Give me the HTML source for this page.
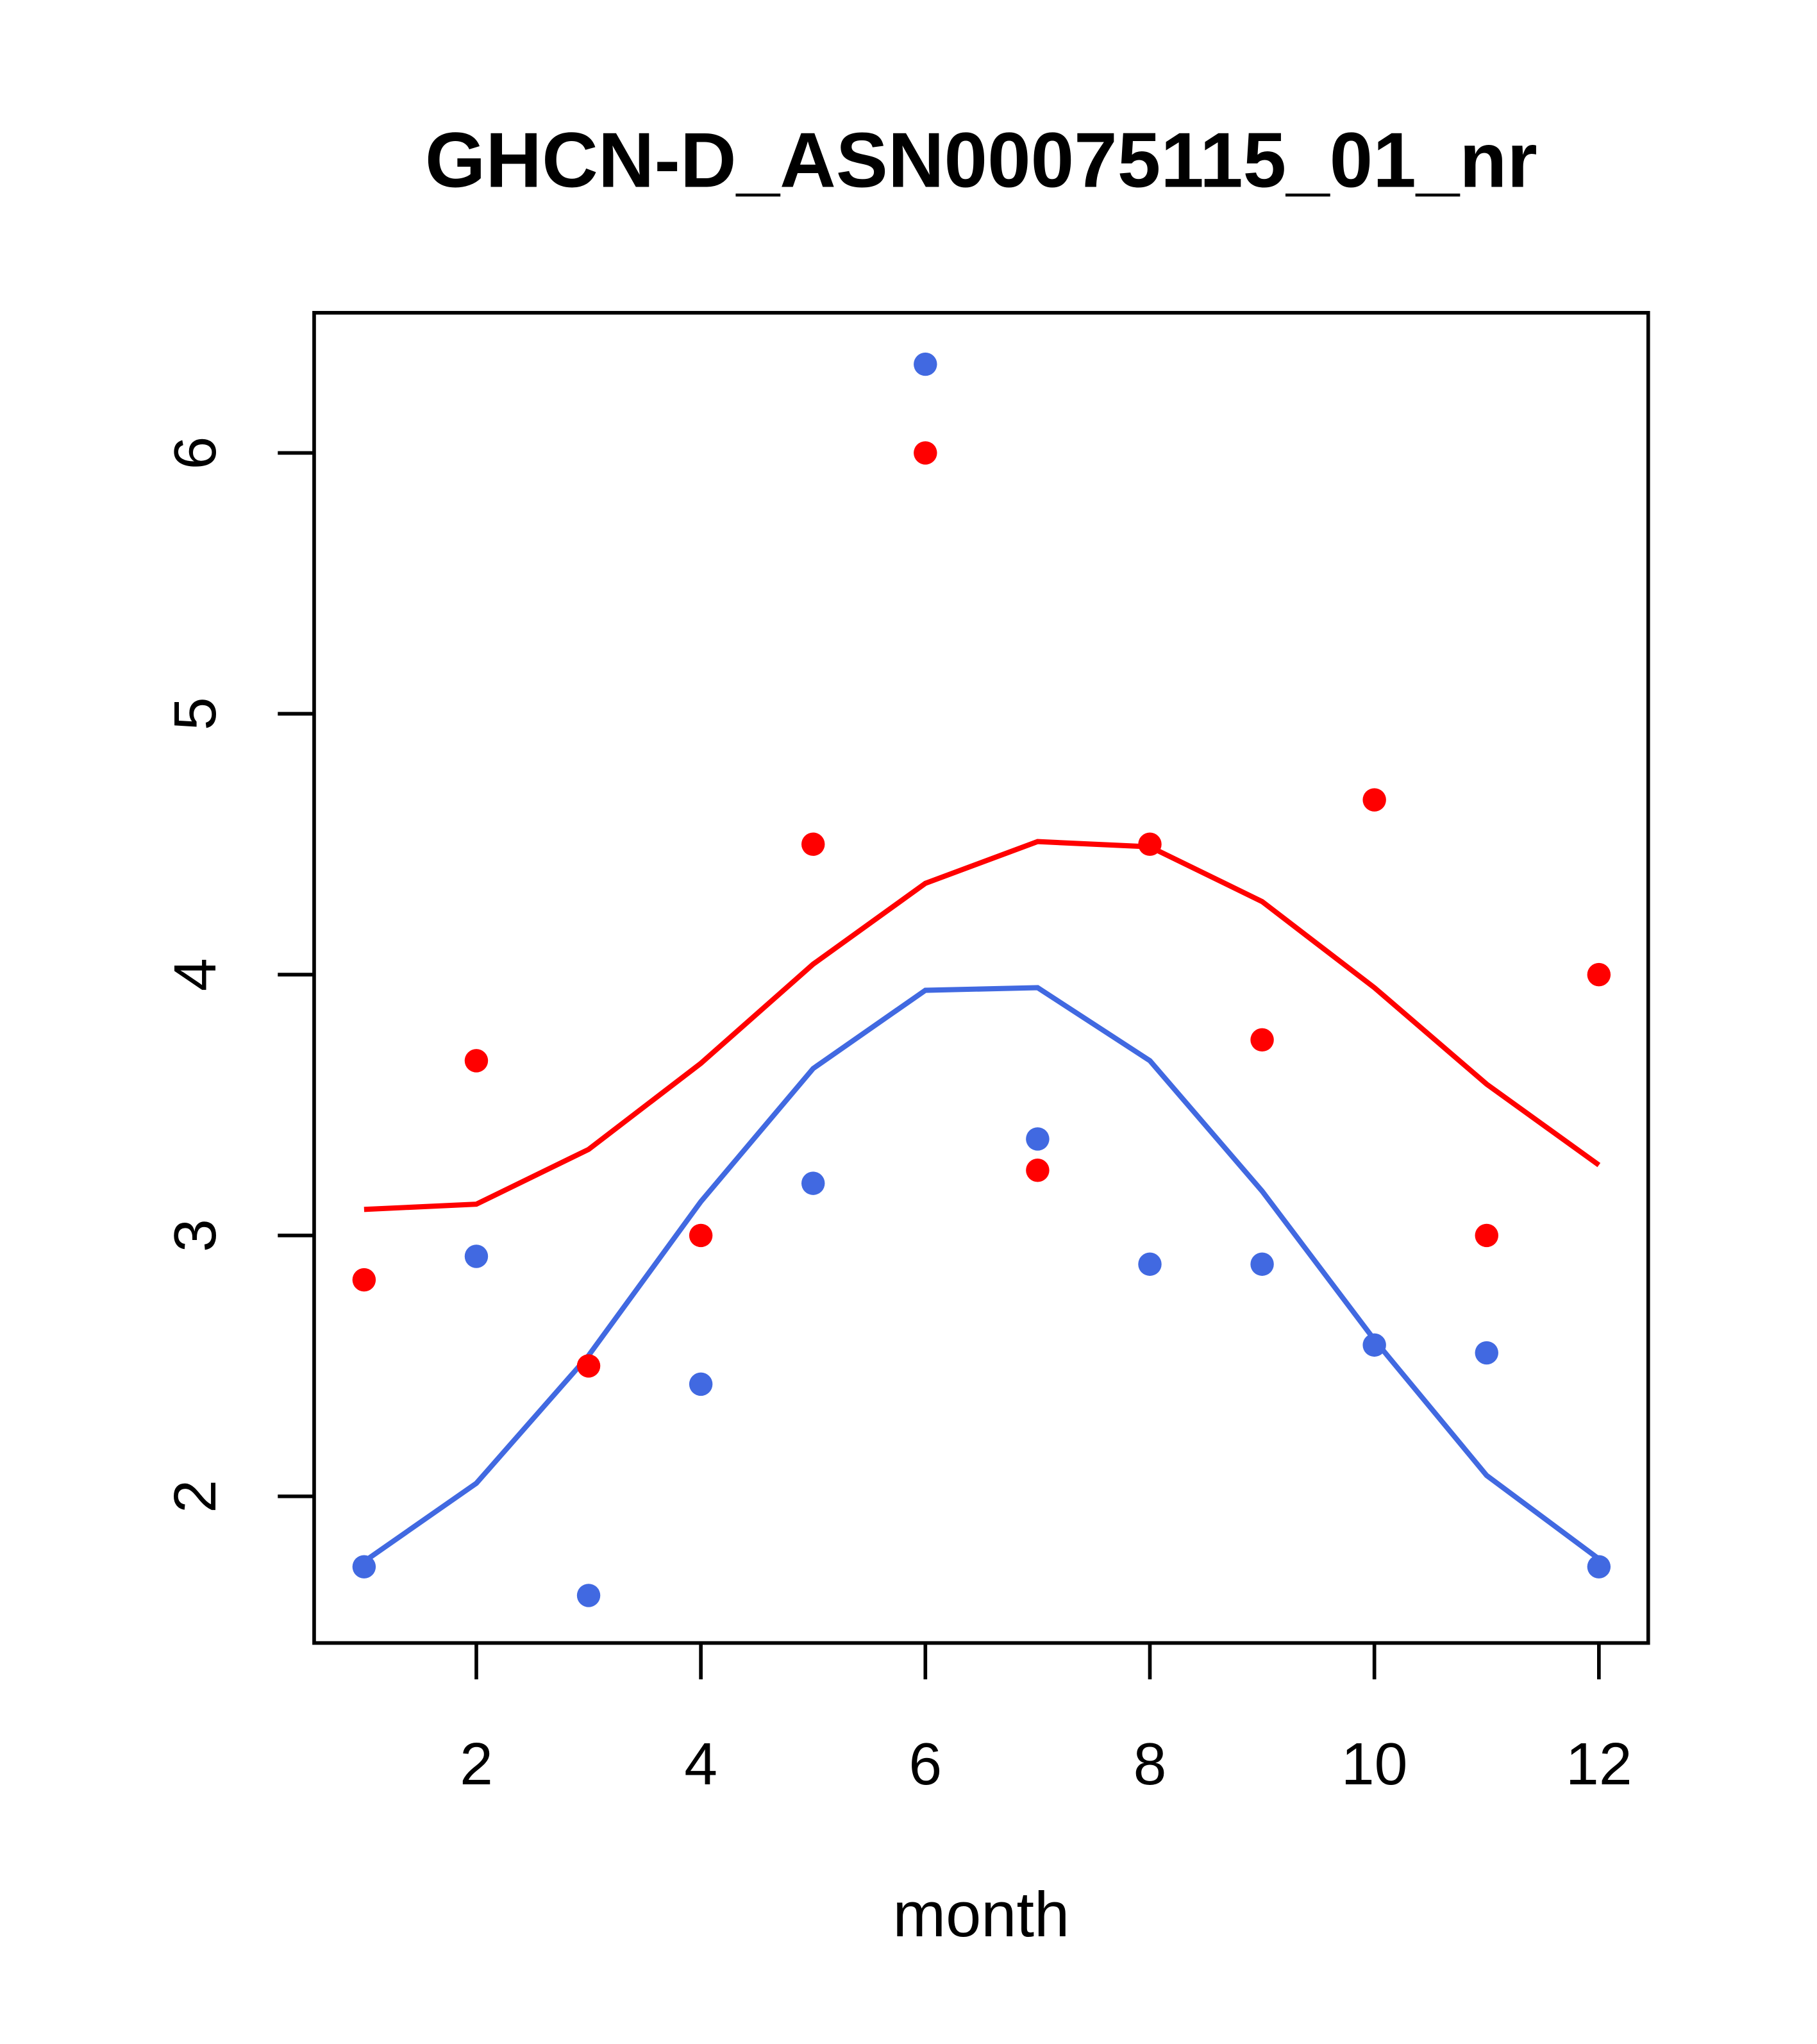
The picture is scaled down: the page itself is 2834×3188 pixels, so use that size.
<!DOCTYPE html>
<html><head><meta charset="utf-8">
<style>
html,body{margin:0;padding:0;background:#fff;}
svg{display:block;}
text{font-family:"Liberation Sans",Arial,sans-serif;fill:#000;}
</style></head>
<body>
<svg id="chart" width="2834" height="3188" viewBox="0 0 1400 1575" xmlns="http://www.w3.org/2000/svg">
<rect x="0" y="0" width="1400" height="1575" fill="#fff"/>
<text x="756" y="144" font-size="60" font-weight="bold" text-anchor="middle">GHCN-D_ASN00075115_01_nr</text>
<rect x="242" y="241" width="1028" height="1025" fill="none" stroke="#000" stroke-width="2.8"/>
<text x="756" y="1492" font-size="49" text-anchor="middle">month</text>
<g id="xaxis"></g>
<g id="yaxis"></g>
<g id="series"></g>
</svg>
<script>
const months = [1,2,3,4,5,6,7,8,9,10,11,12];
const redPoints = [2.83,3.67,2.5,3.0,4.5,6.0,3.25,4.5,3.75,4.67,3.0,4.0];
const bluePoints = [1.73,2.92,1.62,2.43,3.2,6.34,3.37,2.89,2.89,2.58,2.55,1.73];
const redLine = [3.10,3.12,3.33,3.66,4.04,4.35,4.51,4.49,4.28,3.95,3.58,3.27];
const blueLine = [1.75,2.05,2.54,3.13,3.64,3.94,3.95,3.67,3.17,2.60,2.08,1.76];
const xTicks = [2,4,6,8,10,12];
const yTicks = [2,3,4,5,6];

const NS = "http://www.w3.org/2000/svg";
function X(m){ return 280.5 + 86.5*(m-1); }
function Y(v){ return 1153 - 201*(v-2); }
function mk(tag, attrs, parent){
  const e = document.createElementNS(NS, tag);
  for (const k in attrs) e.setAttribute(k, attrs[k]);
  parent.appendChild(e); return e;
}
const xa = document.getElementById('xaxis');
const ya = document.getElementById('yaxis');
const sg = document.getElementById('series');
xTicks.forEach(t=>{
  const l = mk('line',{x1:X(t),x2:X(t),y1:1266,y2:1294,stroke:'#000','stroke-width':2.8},xa);
  
  
  const tx = mk('text',{x:X(t),y:1375,'font-size':46,'text-anchor':'middle'},xa);
  tx.textContent = t;
  
  
});
yTicks.forEach(t=>{
  const l = mk('line',{x1:214,x2:242,y1:Y(t),y2:Y(t),stroke:'#000','stroke-width':2.8},ya);
  
  
  const tx = mk('text',{x:171,y:Y(t),'font-size':46,'text-anchor':'middle',transform:`rotate(-90 171 ${Y(t)})`},ya);
  tx.setAttribute('x',166);
  tx.setAttribute('transform',`rotate(-90 166 ${Y(t)})`);
  tx.textContent = t;
  
  
});
function line(vals,color,name){
  const p = mk('polyline',{points:vals.map((v,i)=>X(months[i])+','+Y(v)).join(' '),fill:'none',stroke:color,'stroke-width':4},sg);
  
  
}
function pts(vals,color,name){
  vals.forEach((v,i)=>{
    const c = mk('circle',{cx:X(months[i]),cy:Y(v),r:9,fill:color},sg);
    
    
  });
}
line(redLine,'#ff0000','red-line');
line(blueLine,'#4169e1','blue-line');
pts(redPoints,'#ff0000','red-point');
pts(bluePoints,'#4169e1','blue-point');
</script>
</body></html>
